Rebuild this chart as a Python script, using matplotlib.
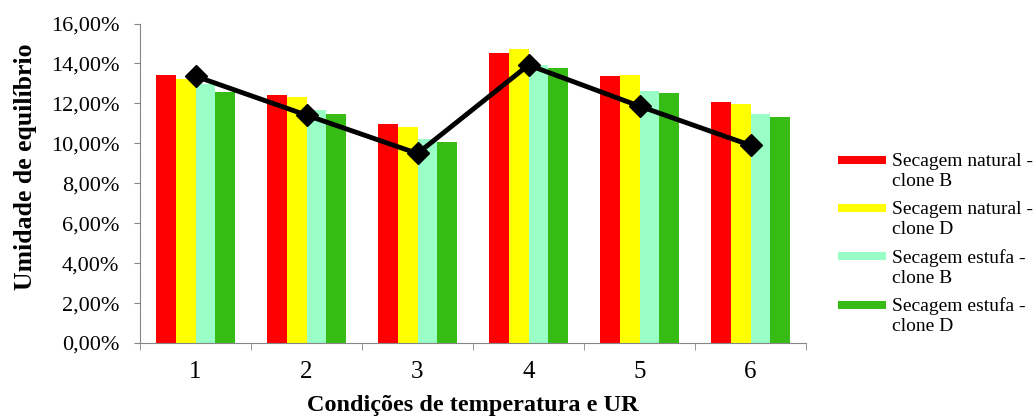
import numpy as np
import matplotlib.pyplot as plt
from matplotlib.patches import Rectangle

plt.rcParams['font.family'] = ['Liberation Serif', 'DejaVu Serif']

categorias = ['1', '2', '3', '4', '5', '6']
nat_b = [13.41, 12.41, 10.96, 14.50, 13.37, 12.05]
nat_d = [13.21, 12.33, 10.82, 14.70, 13.41, 11.98]
est_b = [12.95, 11.66, 10.24, 13.90, 12.63, 11.49]
est_d = [12.58, 11.49, 10.05, 13.78, 12.51, 11.31]
linha = [13.36, 11.41, 9.49, 13.92, 11.86, 9.90]

series = [nat_b, nat_d, est_b, est_d]
nomes = ['Secagem natural -\nclone B', 'Secagem natural -\nclone D',
         'Secagem estufa -\nclone B', 'Secagem estufa -\nclone D']
cores = ['#ff0000', '#ffff00', '#99ffc6', '#36bc14']

W, H = 1035, 418
fig = plt.figure(figsize=(W / 100, H / 100), dpi=100)
ax = fig.add_axes([140/W, 1 - 343/H, 666/W, 319.5/H])

x = np.arange(len(categorias))
w = 0.18
for i, (vals, cor) in enumerate(zip(series, cores)):
    ax.bar(x + (i - 1.5) * w, vals, width=w, color=cor, zorder=2)

ax.plot(x, linha, color='black', lw=3.5, marker='D', ms=11, zorder=3)

ax.set_xlim(-0.5, len(categorias) - 0.5)
ax.set_ylim(0, 16)
yt = np.arange(0, 17, 2)
ax.set_yticks(yt)
ax.set_yticklabels([f'{v:.2f}%'.replace('.', ',') for v in yt])
ax.set_xticks(x)
ax.set_xticklabels(categorias, fontsize=18)
ax.set_xticks(np.arange(-0.5, len(categorias)), minor=True)
ax.tick_params(axis='x', which='major', length=0, pad=13)
ax.tick_params(axis='x', which='minor', length=5, color='#868686')
ax.tick_params(axis='y', length=4, color='#868686', pad=11, labelsize=16)

for s in ['top', 'right']:
    ax.spines[s].set_visible(False)
for s in ['left', 'bottom']:
    ax.spines[s].set_color('#868686')

ax.set_ylabel('Umidade de equilíbrio', fontsize=18.5, fontweight='bold')
ax.yaxis.set_label_coords(-0.155, 0.551)
ax.set_xlabel('Condições de temperatura e UR', fontsize=17.5, fontweight='bold')
ax.xaxis.set_label_coords(0.5, -0.164)

# legenda manual (faixas coloridas + texto em duas linhas)
for i, (nome, cor) in enumerate(zip(nomes, cores)):
    yc = 160 + i * 48.2
    fig.patches.append(Rectangle((838/W, 1 - (yc + 4)/H), 48/W, 8/H,
                                 transform=fig.transFigure, facecolor=cor))
    fig.text(892/W, 1 - (yc + 11.5)/H, nome, fontsize=14, va='center', ha='left',
             linespacing=1.2)

fig.savefig('out.png', dpi=100)
